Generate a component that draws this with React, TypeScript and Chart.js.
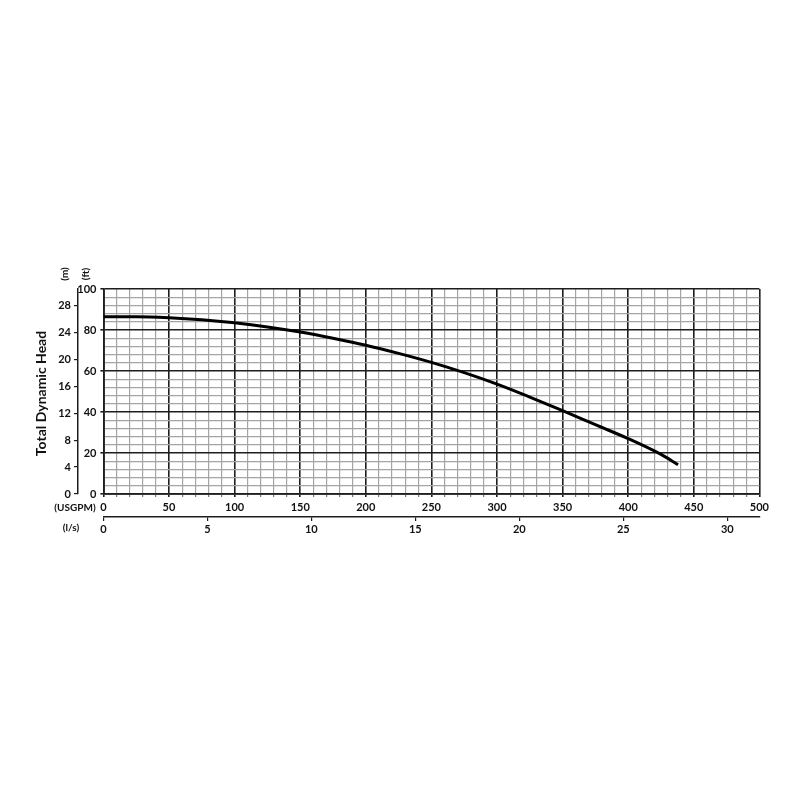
import React, { useEffect, useRef } from "react";
import { Chart, registerables } from "chart.js";

Chart.register(...registerables);

// Pump curve: flow (USGPM) vs total dynamic head (ft)
const flowUSGPM: number[] = [0, 25, 50, 75, 100, 125, 150, 175, 200, 225, 250, 275, 300, 325, 350, 375, 400, 425, 438];
const headFt: number[] = [86.5, 86.5, 86, 85, 83.5, 81.5, 79, 76, 72.6, 68.6, 64.2, 59.2, 53.6, 47.3, 40.7, 33.8, 27, 19.3, 14.3];

const usgpmRange: number[] = [0, 500];
const ftRange: number[] = [0, 100];
const USGPM_PER_LPS = 15.850;
const FT_PER_M = 3.28084;

const FONT = "Lato";
const MAJOR = "#1e1e1e";
const MINOR = "#a4a4a4";

const isMajor = (v: number, step: number) => Math.abs(v / step - Math.round(v / step)) < 1e-6;

const labelsPlugin = {
  id: "extraLabels",
  afterDraw(chart: any) {
    const { ctx, chartArea, scales } = chart;
    const y2 = scales.y2;
    const y = scales.y;
    const x = scales.x;
    const x2 = scales.x2;
    ctx.save();
    ctx.fillStyle = "#111";
    ctx.textAlign = "center";
    ctx.textBaseline = "middle";

    // rotated axis title
    ctx.save();
    ctx.translate(y2.left + 41, (chartArea.top + chartArea.bottom) / 2 + 2);
    ctx.rotate(-Math.PI / 2);
    ctx.font = `bold 14px ${FONT}`;
    ctx.fillText("Total Dynamic Head", 0, 0);
    ctx.restore();

    // unit labels above left axes
    ctx.font = `bold 10px ${FONT}`;
    ctx.save();
    ctx.translate(y2.right - 13, chartArea.top - 15);
    ctx.rotate(-Math.PI / 2);
    ctx.fillText("(m)", 0, 0);
    ctx.restore();
    ctx.save();
    ctx.translate(y.left + 8, chartArea.top - 15);
    ctx.rotate(-Math.PI / 2);
    ctx.fillText("(ft)", 0, 0);
    ctx.restore();

    // unit labels left of bottom axes
    ctx.font = `bold 10px ${FONT}`;
    ctx.fillText("(USGPM)", y2.right - 3, x.top + 14);
    ctx.fillText("(l/s)", y2.right - 7, x2.top + 11);
    ctx.restore();
  },
};

export default function App() {
  const canvasRef = useRef<HTMLCanvasElement | null>(null);

  useEffect(() => {
    if (!canvasRef.current) return;
    const points = flowUSGPM.map((f, i) => ({ x: f, y: headFt[i] }));
    const chart = new Chart(canvasRef.current, {
      type: "line",
      data: {
        datasets: [
          {
            data: points,
            borderColor: "#000",
            borderWidth: 3,
            pointRadius: 0,
            cubicInterpolationMode: "monotone",
            fill: false,
            xAxisID: "x",
            yAxisID: "y",
          },
        ],
      },
      options: {
        responsive: true,
        maintainAspectRatio: false,
        animation: false,
        layout: { padding: { top: 289, right: 40.6, bottom: 259, left: 0 } },
        plugins: { legend: { display: false }, tooltip: { enabled: false } },
        scales: {
          x: {
            type: "linear",
            position: "bottom",
            weight: 0,
            min: usgpmRange[0],
            max: usgpmRange[1],
            afterFit: (s: any) => {
              s.height = 23;
            },
            ticks: {
              stepSize: 10,
              autoSkip: false,
              maxRotation: 0,
              padding: 4,
              color: "#111",
              font: { family: FONT, size: 11, weight: "bold" },
              callback: (v: any) => (isMajor(Number(v), 50) ? String(v) : ""),
            },
            grid: {
              color: (c: any) => (c.tick && isMajor(c.tick.value, 50) ? MAJOR : MINOR),
              lineWidth: (c: any) => (c.tick && isMajor(c.tick.value, 50) ? 1.6 : 1.2),
              tickColor: (c: any) => (c.tick && isMajor(c.tick.value, 50) ? MAJOR : "#777"),
              tickLength: 3,
            },
            border: { display: true, color: MAJOR, width: 1.8 },
          },
          x2: {
            type: "linear",
            position: "bottom",
            weight: 1,
            min: usgpmRange[0] / USGPM_PER_LPS,
            max: usgpmRange[1] / USGPM_PER_LPS,
            afterFit: (s: any) => {
              s.height = 24;
            },
            ticks: {
              stepSize: 5,
              includeBounds: false,
              autoSkip: false,
              maxRotation: 0,
              padding: 2,
              color: "#111",
              font: { family: FONT, size: 11, weight: "bold" },
            },
            grid: { drawOnChartArea: false, color: MAJOR, tickColor: MAJOR, tickLength: 4, lineWidth: 1.2 },
            border: { display: true, color: MAJOR, width: 1.5 },
          },
          y: {
            type: "linear",
            position: "left",
            weight: 0,
            min: ftRange[0],
            max: ftRange[1],
            afterFit: (s: any) => {
              s.width = 25.4;
            },
            ticks: {
              stepSize: 4,
              autoSkip: false,
              padding: 4,
              color: "#111",
              font: { family: FONT, size: 11, weight: "bold" },
              callback: (v: any) => (isMajor(Number(v), 20) ? String(v) : ""),
            },
            grid: {
              color: (c: any) => (c.tick && isMajor(c.tick.value, 20) ? MAJOR : MINOR),
              lineWidth: (c: any) => (c.tick && isMajor(c.tick.value, 20) ? 1.6 : 1.2),
              tickColor: (c: any) => (c.tick && isMajor(c.tick.value, 20) ? MAJOR : "rgba(0,0,0,0)"),
              tickLength: 3,
            },
            border: { display: true, color: MAJOR, width: 1.8 },
          },
          y2: {
            type: "linear",
            position: "left",
            weight: 1,
            min: ftRange[0] / FT_PER_M,
            max: ftRange[1] / FT_PER_M,
            afterFit: (s: any) => {
              s.width = 78;
            },
            ticks: {
              stepSize: 4,
              includeBounds: false,
              autoSkip: false,
              padding: 3,
              color: "#111",
              font: { family: FONT, size: 11, weight: "bold" },
            },
            grid: { drawOnChartArea: false, color: MAJOR, tickColor: MAJOR, tickLength: 4, lineWidth: 1.2 },
            border: { display: true, color: MAJOR, width: 1.5 },
          },
        },
      },
      plugins: [labelsPlugin],
    } as any);
    return () => chart.destroy();
  }, []);

  return (
    <div style={{ position: "fixed", left: 0, top: 0, width: 800, height: 800, background: "#fff" }}>
      <canvas ref={canvasRef} />
    </div>
  );
}
